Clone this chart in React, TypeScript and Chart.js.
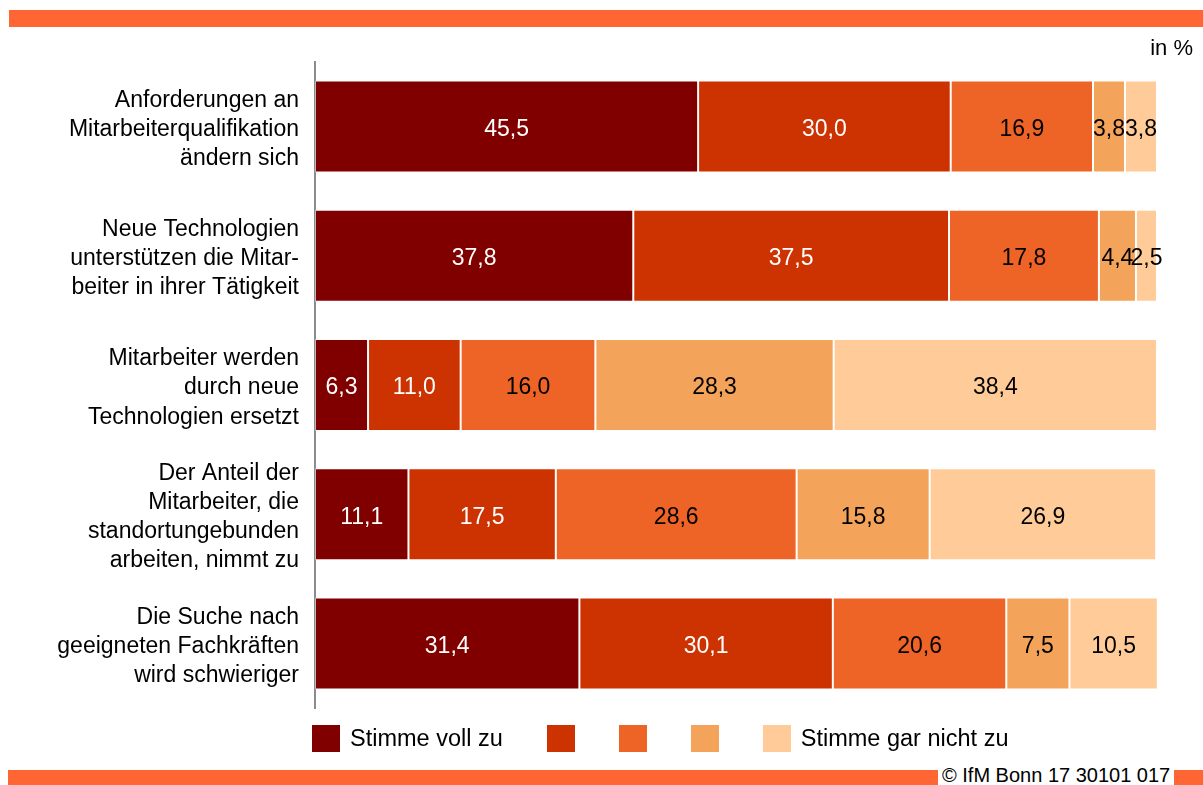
import React, { useEffect, useRef } from "react";
import { Chart, registerables } from "chart.js";

Chart.register(...registerables);

const categories: string[][] = [
  ["Anforderungen an", "Mitarbeiterqualifikation", "ändern sich"],
  ["Neue Technologien", "unterstützen die Mitar-", "beiter in ihrer Tätigkeit"],
  ["Mitarbeiter werden", "durch neue", "Technologien ersetzt"],
  ["Der Anteil der", "Mitarbeiter, die", "standortungebunden", "arbeiten, nimmt zu"],
  ["Die Suche nach", "geeigneten Fachkräften", "wird schwieriger"],
];

const seriesNames = ["Stimme voll zu", "", "", "", "Stimme gar nicht zu"];
const seriesColors = ["#800000", "#CC3300", "#EE6326", "#F4A35A", "#FFCC99"];
const labelColors = ["#FFFFFF", "#FFFFFF", "#000000", "#000000", "#000000"];

const s1 = [45.5, 37.8, 6.3, 11.1, 31.4];
const s2 = [30.0, 37.5, 11.0, 17.5, 30.1];
const s3 = [16.9, 17.8, 16.0, 28.6, 20.6];
const s4 = [3.8, 4.4, 28.3, 15.8, 7.5];
const s5 = [3.8, 2.5, 38.4, 26.9, 10.5];
const seriesValues = [s1, s2, s3, s4, s5];

const FONT = "'Liberation Sans', Arial, sans-serif";

const labelPlugin = {
  id: "barLabels",
  afterDatasetsDraw(chart: any) {
    const ctx = chart.ctx;
    ctx.save();
    ctx.font = `23px ${FONT}`;
    ctx.textAlign = "center";
    ctx.textBaseline = "middle";
    chart.data.datasets.forEach((ds: any, di: number) => {
      const meta = chart.getDatasetMeta(di);
      meta.data.forEach((bar: any, i: number) => {
        const v = ds.data[i];
        const x = (bar.x + bar.base) / 2;
        ctx.fillStyle = labelColors[di];
        ctx.fillText(v.toFixed(1).replace(".", ","), x, bar.y + 3);
      });
    });
    ctx.restore();
  },
};

export default function App() {
  const ref = useRef<HTMLCanvasElement>(null);
  useEffect(() => {
    if (!ref.current) return;
    const chart = new Chart(ref.current, {
      type: "bar",
      data: {
        labels: categories,
        datasets: seriesValues.map((vals, i) => ({
          label: seriesNames[i],
          data: vals,
          backgroundColor: seriesColors[i],
          borderColor: "rgba(255,255,255,0.4)",
          borderWidth: 1,
          borderSkipped: false,
          barPercentage: 1,
          categoryPercentage: 0.712,
        })),
      },
      options: {
        indexAxis: "y",
        animation: false,
        responsive: false,
        maintainAspectRatio: false,
        layout: { padding: { top: 62, bottom: 77, right: 46, left: 0 } },
        plugins: { legend: { display: false }, tooltip: { enabled: false } },
        scales: {
          x: { stacked: true, display: false, min: 0, max: 100 },
          y: {
            stacked: true,
            grid: { display: false, drawTicks: false },
            border: { display: true, color: "#8c8c8c", width: 2 },
            ticks: {
              color: "#000",
              padding: 16,
              labelOffset: 3,
              font: { family: FONT, size: 23, lineHeight: 1.27 },
            },
            afterFit(scale: any) {
              scale.width = 315;
            },
          },
        },
      },
      plugins: [labelPlugin],
    });
    return () => chart.destroy();
  }, []);

  return (
    <div
      style={{
        position: "fixed",
        left: 0,
        top: 0,
        width: 1203,
        height: 785,
        background: "#fff",
        fontFamily: FONT,
        overflow: "hidden",
      }}
    >
      <div style={{ position: "absolute", left: 9, top: 10, width: 1194, height: 17, background: "#FF6633" }} />
      <canvas ref={ref} width={1203} height={785} style={{ position: "absolute", left: 0, top: 0 }} />
      <div style={{ position: "absolute", right: 10, top: 35, fontSize: 22, color: "#000" }}>in %</div>
      <div
        style={{
          position: "absolute",
          left: 312,
          top: 725,
          display: "flex",
          alignItems: "center",
          gap: 44,
        }}
      >
        {seriesNames.map((n, i) => (
          <div key={i} style={{ display: "flex", alignItems: "center" }}>
            <div style={{ width: 28, height: 27, background: seriesColors[i] }} />
            {n ? <span style={{ marginLeft: 10, fontSize: 23.5, color: "#000" }}>{n}</span> : null}
          </div>
        ))}
      </div>
      <div
        style={{
          position: "absolute",
          left: 8,
          top: 770,
          width: 1195,
          height: 15,
          background: "#FF6633",
        }}
      />
      <div
        style={{
          position: "absolute",
          left: 938,
          top: 764,
          background: "#fff",
          padding: "0 4px",
          fontSize: 20,
          color: "#000",
          lineHeight: "23px",
        }}
      >
        © IfM Bonn 17 30101 017
      </div>
    </div>
  );
}
